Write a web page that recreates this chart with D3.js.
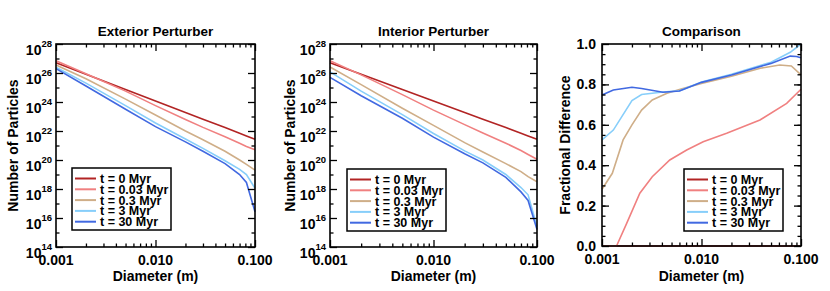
<!doctype html>
<html>
<head>
<meta charset="UTF-8">
<script src="https://d3js.org/d3.v7.min.js"></script>
<style>
body{margin:0;background:#fff}
svg text{font-family:"Liberation Sans",Arial,Helvetica,sans-serif;font-weight:bold;fill:#000}
</style>
</head>
<body>
<svg id="chart" width="830" height="291"></svg>
<script>
// series labels + colours
var labels = ["t = 0 Myr", "t = 0.03 Myr", "t = 0.3 Myr", "t = 3 Myr", "t = 30 Myr"];
var colors = ["#b22424", "#f08080", "#cfae88", "#87cefa", "#4169e1"];

// diameters (m) for the two particle-number panels
var diam = [0.001, 0.002, 0.005, 0.01, 0.02, 0.03, 0.05, 0.07, 0.082, 0.1];

// exterior perturber, log10(number of particles)
var ext0   = [26.7, 25.91, 24.86, 24.07, 23.28, 22.81, 22.24, 21.85, 21.66, 21.43];
var ext003 = [26.85, 25.95, 24.75, 23.75, 22.8, 22.25, 21.6, 21.15, 20.93, 20.7];
var ext03  = [26.55, 25.6, 24.2, 23.1, 22.0, 21.4, 20.6, 20.0, 19.7, 19.3];
var ext3   = [26.4, 25.3, 23.75, 22.55, 21.45, 20.8, 19.95, 19.35, 19.0, 18.05];
var ext30  = [26.3, 25.1, 23.5, 22.3, 21.25, 20.6, 19.75, 19.0, 18.45, 16.43];

// interior perturber, log10(number of particles)
var int0   = [26.7, 25.91, 24.86, 24.07, 23.28, 22.81, 22.24, 21.85, 21.66, 21.43];
var int003 = [26.85, 25.87, 24.51, 23.44, 22.44, 21.86, 21.16, 20.65, 20.38, 20.05];
var int03  = [26.41, 25.2, 23.57, 22.39, 21.2, 20.55, 19.75, 19.2, 18.85, 18.5];
var int3   = [26.08, 24.75, 23.13, 21.83, 20.63, 20.0, 19.0, 18.1, 17.6, 15.4];
var int30  = [25.7, 24.43, 22.88, 21.58, 20.43, 19.8, 18.8, 17.8, 17.21, 15.2];

// comparison panel: fractional difference
var cmpD0   = [0.001, 0.1];
var cmp0    = [0, 0];
var cmpD003 = [0.001, 0.0014, 0.00177, 0.0024, 0.0032, 0.0048, 0.0071, 0.0104, 0.0179, 0.0387, 0.0718, 0.1];
var cmp003  = [0, 0, 0.112, 0.261, 0.343, 0.426, 0.475, 0.516, 0.558, 0.624, 0.706, 0.776];
var cmpD03  = [0.001, 0.00127, 0.00163, 0.002, 0.0025, 0.0032, 0.0045, 0.006, 0.01, 0.02, 0.039, 0.061, 0.08, 0.1];
var cmp03   = [0.281, 0.36, 0.525, 0.6, 0.673, 0.723, 0.756, 0.775, 0.805, 0.84, 0.88, 0.896, 0.891, 0.847];
var cmpD3   = [0.001, 0.0013, 0.002, 0.0025, 0.0041, 0.006, 0.01, 0.02, 0.05, 0.078, 0.1];
var cmp3    = [0.525, 0.574, 0.72, 0.75, 0.762, 0.768, 0.812, 0.85, 0.91, 0.959, 1.0];
var cmpD30  = [0.001, 0.0013, 0.002, 0.0025, 0.0041, 0.006, 0.01, 0.02, 0.05, 0.078, 0.09, 0.1];
var cmp30   = [0.748, 0.772, 0.786, 0.78, 0.761, 0.767, 0.81, 0.847, 0.904, 0.94, 0.938, 0.932];

// ticks
var xTicks = [0.001, 0.01, 0.1];
var xTickLabels = ["0.001", "0.010", "0.100"];
var logYTicks = [14, 16, 18, 20, 22, 24, 26, 28];
var linYTicks = [0, 0.2, 0.4, 0.6, 0.8, 1.0];
var linYLabels = ["0.0", "0.2", "0.4", "0.6", "0.8", "1.0"];

var svg = d3.select("#chart");

var panels = [
  {title: "Exterior Perturber", ytitle: "Number of Particles", log: true,
   x0: 56, x1: 255, y0: 44, y1: 247, yt: 13, legend: [72, 168],
   series: [[diam, ext0], [diam, ext003], [diam, ext03], [diam, ext3], [diam, ext30]]},
  {title: "Interior Perturber", ytitle: "Number of Particles", log: true,
   x0: 330, x1: 537, y0: 44, y1: 247, yt: 290, legend: [347, 169],
   series: [[diam, int0], [diam, int003], [diam, int03], [diam, int3], [diam, int30]]},
  {title: "Comparison", ytitle: "Fractional Difference", log: false,
   x0: 602, x1: 801, y0: 44, y1: 246, yt: 565, legend: [684, 169],
   series: [[cmpD0, cmp0], [cmpD003, cmp003], [cmpD03, cmp03], [cmpD3, cmp3], [cmpD30, cmp30]]}
];

panels.forEach(drawPanel);

function drawPanel(p){
  var g = svg.append("g");
  var x = d3.scaleLog().domain([0.001, 0.1]).range([p.x0, p.x1]);
  var y = p.log
      ? d3.scaleLog().domain([1e14, 1e28]).range([p.y1, p.y0])
      : d3.scaleLinear().domain([0, 1]).range([p.y1, p.y0]);

  var line = d3.line()
      .x(function(d){ return x(d[0]); })
      .y(function(d){ return y(p.log ? Math.pow(10, d[1]) : d[1]); });

  p.series.forEach(function(s, i){
    var pts = s[0].map(function(d, j){ return [d, s[1][j]]; });
    g.append("path").datum(pts)
      .attr("d", line)
      .attr("fill", "none")
      .attr("stroke", colors[i])
      .attr("stroke-width", 1.6);
  });

  // minor tick values
  var xMinor = [];
  [0.001, 0.01].forEach(function(dec){
    for(var k=2; k<10; k++) xMinor.push(dec*k);
  });
  var yMajor, yMinor;
  if(p.log){
    yMajor = logYTicks.map(function(e){ return Math.pow(10, e); });
    yMinor = [];
    for(var e=15; e<28; e+=2) yMinor.push(Math.pow(10, e));
  } else {
    yMajor = linYTicks;
    yMinor = d3.range(0.05, 1, 0.05);
  }

  function ax(axisFn, scale, vals, size, tx, ty){
    var a = g.append("g")
      .attr("transform", "translate(" + tx + "," + ty + ")")
      .call(axisFn(scale).tickValues(vals).tickSize(-size).tickSizeOuter(0).tickFormat(""));
    a.select(".domain").remove();
    a.selectAll("line").attr("stroke", "#000").attr("stroke-width", 1.3);
  }
  ax(d3.axisBottom, x, xTicks, 7, 0, p.y1);
  ax(d3.axisBottom, x, xMinor, 3.5, 0, p.y1);
  ax(d3.axisTop, x, xTicks, 7, 0, p.y0);
  ax(d3.axisTop, x, xMinor, 3.5, 0, p.y0);
  ax(d3.axisLeft, y, yMajor, 7, p.x0, 0);
  ax(d3.axisLeft, y, yMinor, 3.5, p.x0, 0);
  ax(d3.axisRight, y, yMajor, 7, p.x1, 0);
  ax(d3.axisRight, y, yMinor, 3.5, p.x1, 0);

  // frame
  g.append("rect")
    .attr("x", p.x0).attr("y", p.y0)
    .attr("width", p.x1 - p.x0).attr("height", p.y1 - p.y0)
    .attr("fill", "none").attr("stroke", "#000").attr("stroke-width", 1.6);

  // x labels
  xTicks.forEach(function(v, i){
    g.append("text")
      .attr("x", x(v)).attr("y", p.y1 + 18)
      .attr("text-anchor", "middle")
      .attr("font-size", 14)
      .text(xTickLabels[i]);
  });

  // y labels
  if(p.log){
    logYTicks.forEach(function(e){
      var t = g.append("text")
        .attr("x", p.x0 - 4).attr("y", y(Math.pow(10, e)) + 11)
        .attr("text-anchor", "end")
        .attr("font-size", 14);
      t.append("tspan").text("10");
      t.append("tspan").attr("dy", -8).attr("font-size", 9.5).text(e);
    });
  } else {
    linYTicks.forEach(function(v, i){
      g.append("text")
        .attr("x", p.x0 - 6).attr("y", y(v) + 5)
        .attr("text-anchor", "end")
        .attr("font-size", 14)
        .text(linYLabels[i]);
    });
  }

  // titles
  g.append("text")
    .attr("x", (p.x0 + p.x1) / 2).attr("y", 35.5)
    .attr("text-anchor", "middle").attr("font-size", 13.5)
    .text(p.title);
  g.append("text")
    .attr("x", (p.x0 + p.x1) / 2).attr("y", 281)
    .attr("text-anchor", "middle").attr("font-size", 14)
    .text("Diameter (m)");
  g.append("text")
    .attr("transform", "translate(" + (p.yt + 5) + "," + ((p.y0 + p.y1) / 2) + ") rotate(-90)")
    .attr("text-anchor", "middle").attr("font-size", 14)
    .text(p.ytitle);

  // legend
  var lx = p.legend[0], ly = p.legend[1];
  g.append("rect")
    .attr("x", lx).attr("y", ly).attr("width", 99).attr("height", 62)
    .attr("fill", "#fff").attr("stroke", "#000").attr("stroke-width", 1.5);
  labels.forEach(function(lab, i){
    var cy = ly + 10.5 + i * 10.8;
    g.append("line")
      .attr("x1", lx + 3).attr("x2", lx + 24)
      .attr("y1", cy).attr("y2", cy)
      .attr("stroke", colors[i]).attr("stroke-width", 2);
    g.append("text")
      .attr("x", lx + 28).attr("y", cy + 4.5)
      .attr("font-size", 12.5)
      .text(lab);
  });
}
</script>
</body>
</html>
